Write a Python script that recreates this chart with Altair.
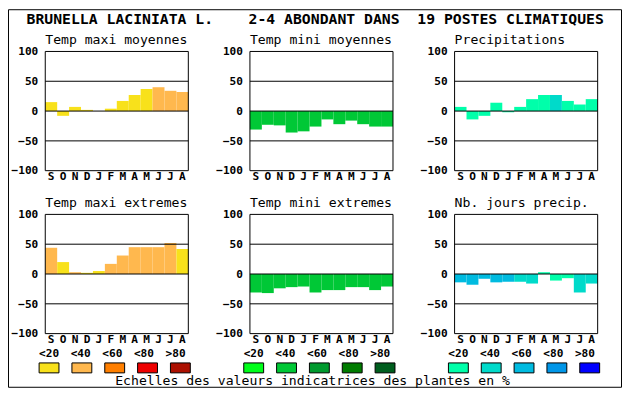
import altair as alt
import pandas as pd

# ---------------- data ----------------
months = ["Sep", "Oct", "Nov", "Dec", "Jan", "Feb", "Mar", "Apr", "May", "Jun", "Jul", "Aug"]
month_initials = ["S", "O", "N", "D", "J", "F", "M", "A", "M", "J", "J", "A"]

main_title = "BRUNELLA LACINIATA L.    2-4 ABONDANT DANS  19 POSTES CLIMATIQUES"
caption = "Echelles des valeurs indicatrices des plantes en %"

panel_titles = ["Temp maxi moyennes", "Temp mini moyennes", "Precipitations",
                "Temp maxi extremes", "Temp mini extremes", "Nb. jours precip."]

tmax_moy = [15, -8, 7, 2, 0, 4, 17, 27, 37, 40, 34, 32]
tmax_moy_cls = [0, 0, 0, 0, 0, 0, 0, 0, 0, 1, 1, 1]
tmin_moy = [-31, -23, -24, -36, -34, -26, -14, -22, -16, -22, -26, -26]
tmin_moy_cls = [1] * 12
precip = [7, -14, -8, 14, -2, 7, 20, 27, 27, 17, 11, 20]
precip_cls = [0, 0, 0, 0, 0, 0, 0, 0, 1, 0, 0, 0]
tmax_ext = [44, 20, 3, 2, 5, 17, 31, 45, 45, 45, 52, 42]
tmax_ext_cls = [1, 0, 1, 0, 0, 1, 1, 1, 1, 1, 1, 0]
tmin_ext = [-31, -32, -24, -22, -21, -31, -27, -27, -22, -22, -27, -21]
tmin_ext_cls = [1] * 12
jours_precip = [-14, -18, -8, -14, -13, -13, -16, 3, -11, -7, -31, -16]
jours_precip_cls = [2, 2, 2, 2, 2, 1, 1, 0, 0, 0, 1, 1]

class_labels = ["<20", "<40", "<60", "<80", ">80"]
palette_red = ["#F8E11B", "#FFB84E", "#FF7F00", "#EE0000", "#AC1000"]
palette_green = ["#00FF1A", "#00C836", "#009A2E", "#007C00", "#005E1E"]
palette_blue = ["#00FFAA", "#00DACA", "#00BBE0", "#0096E8", "#0000FF"]

y_ticks = [100, 50, 0, -50, -100]
grid_values = [50, 0, -50]

# ---------------- layout (styles) ----------------
W, H = 618, 381
PW, PH = 144, 120
LEFTS = [37.5, 243.5, 449.5]
TOPS = [42.5, 206.5]
FONT = "DejaVu Sans Mono"

layers = []


def panel(title, values, classes, palette, left, top):
    xs = alt.Scale(domain=[0, 12], range=[left, left + PW], nice=False, zero=False)
    ys = alt.Scale(domain=[-100, 100], range=[top + PH, top], nice=False)
    df = pd.DataFrame({
        "i": list(range(12)),
        "month": months,
        "initial": month_initials,
        "v": values,
        "col": [palette[c] for c in classes],
    })
    bars = alt.Chart(df).transform_calculate(x1="datum.i + 1", zero="0").mark_rect().encode(
        x=alt.X("i:Q", scale=xs, axis=None),
        x2="x1:Q",
        y=alt.Y("v:Q", scale=ys, axis=None),
        y2="zero:Q",
        color=alt.Color("col:N", scale=None),
    )
    grid = alt.Chart(pd.DataFrame({"g": grid_values})).transform_calculate(
        a="0", b="12").mark_rule(color="black", strokeWidth=1).encode(
        x=alt.X("a:Q", scale=xs, axis=None),
        x2="b:Q",
        y=alt.Y("g:Q", scale=ys, axis=None),
    )
    frame = alt.Chart(pd.DataFrame({"a": [0], "b": [12], "lo": [-100], "hi": [100]})).mark_rect(
        fillOpacity=0, stroke="black", strokeWidth=1).encode(
        x=alt.X("a:Q", scale=xs, axis=None),
        x2="b:Q",
        y=alt.Y("lo:Q", scale=ys, axis=None),
        y2="hi:Q",
    )
    ylab = alt.Chart(pd.DataFrame({"t": y_ticks})).transform_calculate(a="0").mark_text(
        align="right", baseline="alphabetic", dx=-7, dy=3.8, font=FONT,
        fontWeight="bold", fontSize=11.2, color="black").encode(
        x=alt.X("a:Q", scale=xs, axis=None),
        y=alt.Y("t:Q", scale=ys, axis=None),
        text=alt.Text("t:Q"),
    )
    mlab = alt.Chart(df).transform_calculate(c="datum.i + 0.5", lo="-100").mark_text(
        align="center", baseline="alphabetic", dy=9.5, font=FONT,
        fontWeight="bold", fontSize=11.2, color="black").encode(
        x=alt.X("c:Q", scale=xs, axis=None),
        y=alt.Y("lo:Q", scale=ys, axis=None),
        text="initial:N",
    )
    ttl = alt.Chart(pd.DataFrame({"title": [title], "a": [0], "hi": [100]})).mark_text(
        align="left", baseline="alphabetic", dy=-7.8, font=FONT,
        fontSize=13.2, color="black").encode(
        x=alt.X("a:Q", scale=xs, axis=None),
        y=alt.Y("hi:Q", scale=ys, axis=None),
        text="title:N",
    )
    return [bars, grid, frame, ylab, mlab, ttl]


specs = [
    (panel_titles[0], tmax_moy, tmax_moy_cls, palette_red, LEFTS[0], TOPS[0]),
    (panel_titles[1], tmin_moy, tmin_moy_cls, palette_green, LEFTS[1], TOPS[0]),
    (panel_titles[2], precip, precip_cls, palette_blue, LEFTS[2], TOPS[0]),
    (panel_titles[3], tmax_ext, tmax_ext_cls, palette_red, LEFTS[0], TOPS[1]),
    (panel_titles[4], tmin_ext, tmin_ext_cls, palette_green, LEFTS[1], TOPS[1]),
    (panel_titles[5], jours_precip, jours_precip_cls, palette_blue, LEFTS[2], TOPS[1]),
]
for s in specs:
    layers += panel(*s)

# legends
for left, pal in zip(LEFTS, [palette_red, palette_green, palette_blue]):
    ldf = pd.DataFrame({"label": class_labels, "col": pal})
    ltxt = alt.Chart(ldf).mark_text(
        align="center", baseline="alphabetic", font=FONT, fontWeight="bold",
        fontSize=11.2, color="black").encode(
        x=alt.X("label:N", sort=class_labels, axis=None,
                scale=alt.Scale(type="point", domain=class_labels,
                                range=[left + 3.8, left + 131.2], padding=0)),
        y=alt.value(349.7),
        text="label:N",
    )
    lsw = alt.Chart(ldf).mark_point(
        shape="M-1,-0.5H1V0.5H-1Z", size=400, filled=True, opacity=1,
        stroke="black", strokeWidth=1).encode(
        x=alt.X("label:N", sort=class_labels, axis=None,
                scale=alt.Scale(type="point", domain=class_labels,
                                range=[left + 3.8, left + 136], padding=0)),
        y=alt.value(361),
        color=alt.Color("col:N", scale=None),
    )
    layers += [ltxt, lsw]

# main title, caption, outer frame
title_txt = main_title.replace(" ", "\u00a0")
layers.append(alt.Chart(pd.DataFrame({"t": [title_txt]})).mark_text(
    align="left", baseline="alphabetic", font=FONT, fontWeight="bold",
    fontSize=14.85, color="black").encode(
    x=alt.value(18.7), y=alt.value(15.3), text="t:N"))
layers.append(alt.Chart(pd.DataFrame({"t": [caption.replace(" ", "\u00a0")]})).mark_text(
    align="center", baseline="alphabetic", font=FONT,
    fontSize=13.2, color="black").encode(
    x=alt.value(306.5), y=alt.value(378.5), text="t:N"))
layers.append(alt.Chart(pd.DataFrame({"k": [1]})).mark_rect(
    fillOpacity=0, stroke="black", strokeWidth=1).encode(
    x=alt.value(0.5), x2=alt.value(617.5), y=alt.value(0.5), y2=alt.value(380.5)))

chart = alt.layer(*layers).resolve_scale(
    x="independent", y="independent", color="independent"
).properties(
    width=W, height=H, padding=0, background="white",
    autosize=alt.AutoSizeParams(type="none"),
).configure_view(strokeWidth=0)

chart.save("out.html", embed_options={"renderer": "svg", "actions": False})
